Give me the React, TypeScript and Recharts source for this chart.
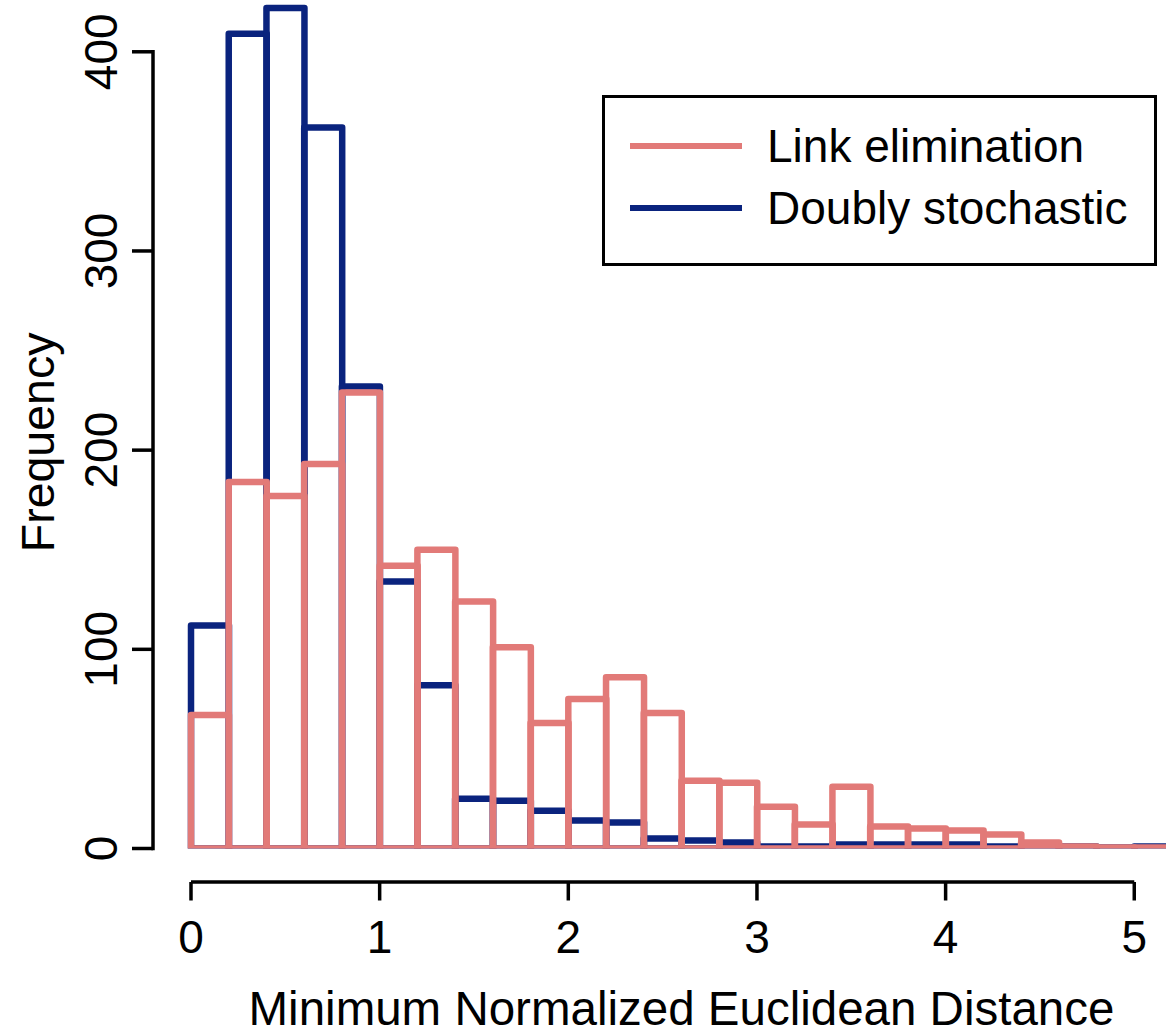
import { Bar, BarChart, Legend, ReferenceLine, XAxis, YAxis } from "recharts";

// histogram bins of width 0.2 (left edges)
const binStarts = [
  0, 0.2, 0.4, 0.6, 0.8, 1, 1.2, 1.4, 1.6, 1.8, 2, 2.2, 2.4, 2.6, 2.8, 3, 3.2, 3.4, 3.6, 3.8, 4, 4.2,
  4.4, 4.6, 4.8, 5,
];
const linkElimination = [
  67, 184, 177, 193, 229, 142, 150, 124, 101, 63, 75, 86, 68, 34, 33, 21, 12, 31, 11, 10, 9, 7, 3, 1,
  0, 0,
];
const doublyStochastic = [
  112, 409, 422, 362, 232, 134, 82, 25, 24, 19, 14, 13, 5, 4, 3, 1, 1, 2, 2, 2, 2, 1, 1, 1, 0, 1,
];
const xTicks = [0, 1, 2, 3, 4, 5];
const yTicks = [0, 100, 200, 300, 400];
const Y_MAX = 426;

const PINK = "#E27A78";
const NAVY = "#0A237E";
const FONT = "'Liberation Sans', Arial, sans-serif";

const data = binStarts.map((b, i) => ({
  bin: b.toFixed(1),
  mid: b + 0.1,
  link: linkElimination[i],
  doubly: doublyStochastic[i],
}));

const XTick = ({ x, y, payload }: any) => (
  <g>
    <line x1={x} x2={x} y1={y + 33.5} y2={y + 52} stroke="#000" strokeWidth={3.5} />
    <text x={x} y={y + 104} textAnchor="middle" fontSize={46} fontFamily={FONT} fill="#000">
      {payload.value}
    </text>
  </g>
);

// R-style axis: the line only runs from the first to the last tick
const YTick = ({ x, y, payload, height }: any) => {
  const last = yTicks[yTicks.length - 1];
  const span = payload.value === 0 && height ? (height * last) / Y_MAX : 0;
  return (
    <g>
      <line x1={x - 59} x2={x - 38} y1={y} y2={y} stroke="#000" strokeWidth={3.5} />
      {span > 0 && (
        <line x1={x - 38} x2={x - 38} y1={y + 1.75} y2={y - span - 1.75} stroke="#000" strokeWidth={3.5} />
      )}
      <text
        x={x - 74}
        y={y}
        textAnchor="middle"
        fontSize={46}
        fontFamily={FONT}
        fill="#000"
        transform={`rotate(-90 ${x - 74} ${y})`}
      >
        {payload.value}
      </text>
    </g>
  );
};

const LegendBox = () => (
  <div
    style={{
      width: 549,
      height: 165,
      border: "3px solid #000",
      background: "#fff",
      fontFamily: FONT,
      fontSize: 46,
      color: "#000",
      position: "relative",
    }}
  >
    {[
      { name: "Link elimination", color: PINK, top: 48 },
      { name: "Doubly stochastic", color: NAVY, top: 110 },
    ].map((it) => (
      <div key={it.name}>
        <div
          style={{
            position: "absolute",
            left: 25,
            top: it.top - 3,
            width: 112,
            height: 6,
            background: it.color,
          }}
        />
        <div
          style={{
            position: "absolute",
            left: 162,
            top: it.top - 28,
            lineHeight: "56px",
            height: 56,
            whiteSpace: "nowrap",
          }}
        >
          {it.name}
        </div>
      </div>
    ))}
  </div>
);

export default function App() {
  return (
    <div
      style={{
        position: "absolute",
        left: 0,
        top: 0,
        width: 1166,
        height: 1035,
        overflow: "hidden",
        background: "#fff",
      }}
    >
      <BarChart
        width={1180}
        height={1035}
        data={data}
        margin={{ top: 0, right: 8, left: 41, bottom: 0 }}
        barCategoryGap={0}
        barGap={0}
      >
        <XAxis xAxisId="binsA" dataKey="bin" type="category" height={0} hide />
        <XAxis xAxisId="binsB" dataKey="bin" type="category" height={0} hide />
        <XAxis
          xAxisId="num"
          dataKey="mid"
          type="number"
          domain={[0, 5.2]}
          allowDataOverflow
          ticks={xTicks}
          height={186.5}
          axisLine={false}
          tickLine={false}
          tickSize={0}
          tickMargin={0}
          tick={<XTick />}
          interval={0}
          label={{
            value: "Minimum Normalized Euclidean Distance",
            position: "insideBottom",
            offset: 10,
            fontSize: 47.5,
            fontFamily: FONT,
            fill: "#000",
          }}
        />
        <YAxis
          width={150}
          domain={[0, Y_MAX]}
          allowDataOverflow
          ticks={yTicks}
          axisLine={false}
          tickLine={false}
          tickSize={0}
          tickMargin={0}
          tick={<YTick />}
          interval={0}
          label={{
            value: "Frequency",
            angle: -90,
            position: "insideLeft",
            offset: -4,
            dy: 128,
            fontSize: 46.5,
            fontFamily: FONT,
            fill: "#000",
          }}
        />
        <ReferenceLine
          xAxisId="num"
          segment={[{ x: 0, y: -16.8 }, { x: 5, y: -16.8 }]}
          stroke="#000"
          strokeWidth={3.5}
          ifOverflow="visible"
        />
        <Bar
          xAxisId="binsA"
          dataKey="doubly"
          name="Doubly stochastic"
          fill="none"
          stroke={NAVY}
          strokeWidth={6.5}
          strokeLinejoin="round"
          minPointSize={1}
          isAnimationActive={false}
        />
        <Bar
          xAxisId="binsB"
          dataKey="link"
          name="Link elimination"
          fill="none"
          stroke={PINK}
          strokeWidth={6.5}
          strokeLinejoin="round"
          minPointSize={1}
          isAnimationActive={false}
        />
        <Legend
          layout="vertical"
          align="center"
          verticalAlign="middle"
          content={<LegendBox />}
          wrapperStyle={{ left: 602, top: 95, width: 555, height: 171 }}
        />
      </BarChart>
    </div>
  );
}
